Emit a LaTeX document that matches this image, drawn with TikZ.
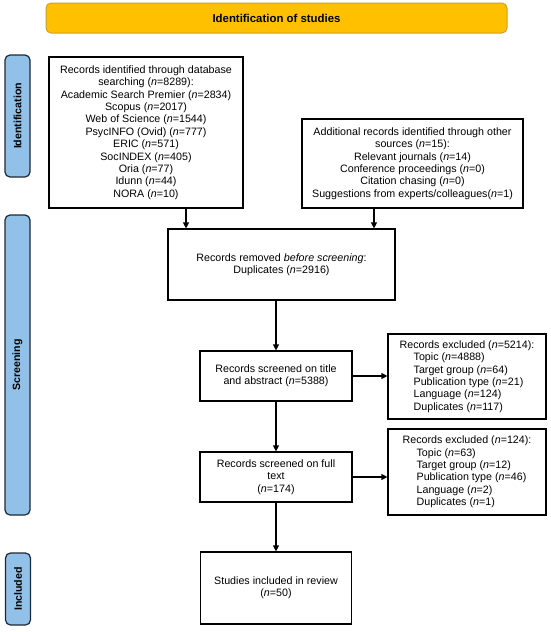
\documentclass[tikz,border=0pt]{standalone}
\usepackage{fontspec}
\setmainfont{Liberation Sans}
\usetikzlibrary{arrows.meta}
\definecolor{bannerfill}{RGB}{255,192,0}
\definecolor{bannerdraw}{RGB}{205,160,40}
\definecolor{barfill}{RGB}{145,193,232}
\definecolor{bardraw}{RGB}{30,40,52}
\tikzset{
  box/.style={draw=black, line width=1.2pt, fill=white, inner sep=0pt, align=center,
    font=\fontsize{10.7}{12.4}\selectfont},
  exbox/.style={draw=black, line width=1.2pt, fill=white, inner sep=0pt, align=left,
    font=\fontsize{10.7}{12.4}\selectfont},
  banner/.style={draw=bannerdraw, line width=1pt, fill=bannerfill, rounded corners=5pt,
    inner sep=0pt, font=\fontsize{11.4}{13}\selectfont\bfseries},
  sidebar/.style={draw=bardraw, line width=1.2pt, fill=barfill, rounded corners=5pt, inner sep=0pt},
  sidelabel/.style={rotate=90, font=\fontsize{10.6}{12}\selectfont\bfseries, inner sep=0pt},
  arr/.style={line width=1.2pt, -{Triangle[length=6pt,width=6pt]}}
}
\newcommand{\nn}{\textit{n}}
\begin{document}
\begin{tikzpicture}[x=1pt,y=-1pt]
\useasboundingbox[fill=white] (0,0) rectangle (550,632);

\node[banner, minimum width=461pt, minimum height=30pt] (banner) at (276.5,18) {Identification of studies};

\node[sidebar, minimum width=25pt, minimum height=122pt] (idbar) at (17.5,116) {};
\node[sidelabel] (idlab) at (idbar.center) {Identification};
\node[sidebar, minimum width=25pt, minimum height=300pt] (scbar) at (17.5,365) {};
\node[sidelabel] (sclab) at (scbar.center) {Screening};
\node[sidebar, minimum width=25pt, minimum height=72pt] (inbar) at (18,589) {};
\node[sidelabel] (inlab) at (inbar.center) {Included};

\node[box, minimum width=194pt, minimum height=151pt] (box1) at (146,132.5) {Records identified through database\\searching (\nn=8289):\\Academic Search Premier (\nn=2834)\\Scopus (\nn=2017)\\Web of Science (\nn=1544)\\PsycINFO (Ovid) (\nn=777)\\ERIC (\nn=571)\\SocINDEX (\nn=405)\\Oria (\nn=77)\\Idunn (\nn=44)\\NORA (\nn=10)};

\node[box, minimum width=221pt, minimum height=89pt] (box2) at (412.5,163.5) {Additional records identified through other\\sources (\nn=15):\\Relevant journals (\nn=14)\\Conference proceedings (\nn=0)\\Citation chasing (\nn=0)\\Suggestions from experts/colleagues(\nn=1)};

\node[box, minimum width=227pt, minimum height=71pt] (box3) at (281.5,264.5) {Records removed \textit{before screening}:\\Duplicates (\nn=2916)};

\node[box, minimum width=152pt, minimum height=50pt] (box4) at (276,376) {Records screened on title\\and abstract (\nn=5388)};

\node[box, minimum width=152pt, minimum height=50pt] (box5) at (276,477) {Records screened on full\\text\\(\nn=174)};

\node[box, minimum width=151pt, minimum height=72pt] (box6) at (276,588) {Studies included in review\\(\nn=50)};

\node[exbox, minimum width=158pt, minimum height=85pt] (ex1) at (467,376.5) {Records excluded (\nn=5214):\\\hspace*{14pt}Topic (\nn=4888)\\\hspace*{14pt}Target group (\nn=64)\\\hspace*{14pt}Publication type (\nn=21)\\\hspace*{14pt}Language (\nn=124)\\\hspace*{14pt}Duplicates (\nn=117)};

\node[exbox, minimum width=158pt, minimum height=86pt] (ex2) at (467,472) {Records excluded (\nn=124):\\\hspace*{14pt}Topic (\nn=63)\\\hspace*{14pt}Target group (\nn=12)\\\hspace*{14pt}Publication type (\nn=46)\\\hspace*{14pt}Language (\nn=2)\\\hspace*{14pt}Duplicates (\nn=1)};

\coordinate (a1) at (186,0);
\coordinate (a2) at (374,0);

\draw[arr] (box1.south -| a1) -- (a1 |- box3.north);
\draw[arr] (box2.south -| a2) -- (a2 |- box3.north);
\draw[arr] (box3.south -| box4.north) -- (box4.north);
\draw[arr] (box4.south) -- (box5.north);
\draw[arr] (box5.south) -- (box6.north);
\draw[arr] (box4.east) -- (box4.east -| ex1.west);
\draw[arr] (box5.east) -- (box5.east -| ex2.west);
\end{tikzpicture}
\end{document}
